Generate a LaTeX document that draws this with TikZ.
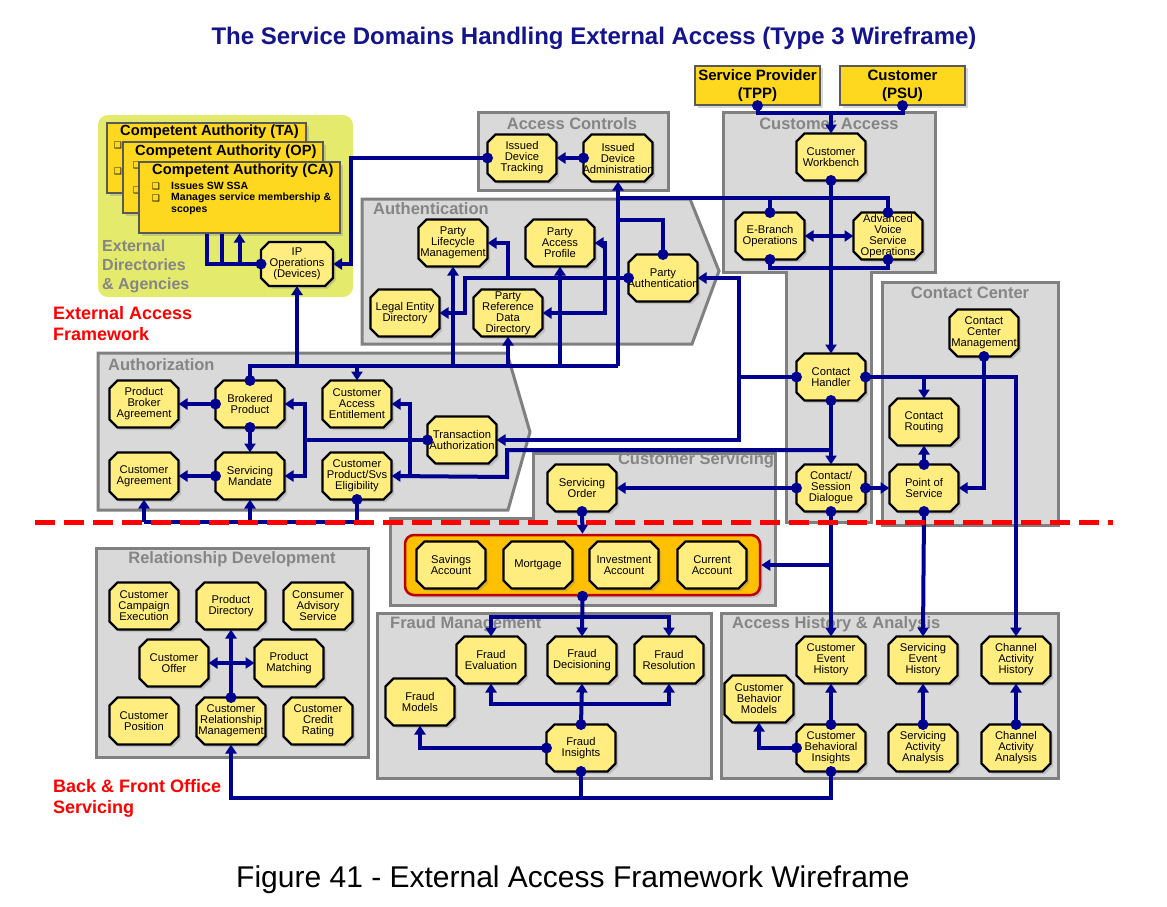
\documentclass[tikz,border=0pt]{standalone}
\usepackage{fontspec}
\setmainfont{Liberation Sans}
\newfontfamily\dvs{DejaVu Sans}
\usetikzlibrary{arrows.meta,shadows}
\definecolor{lnblue}{HTML}{000090}
\definecolor{sdfill}{HTML}{FFED80}
\definecolor{domfill}{HTML}{D9D9D9}
\definecolor{domline}{HTML}{808080}
\definecolor{goldbox}{HTML}{FDD81E}
\definecolor{extfill}{HTML}{E3EA6C}
\definecolor{ttlblue}{HTML}{14148C}
\definecolor{grptxt}{HTML}{858585}
\definecolor{acctfill}{HTML}{FFC000}
\definecolor{acctline}{HTML}{C00000}
\tikzset{
  sdbox/.style={rectangle, draw=none, fill=none, minimum width=69pt, minimum height=47pt, inner sep=0pt, outer sep=0pt},
  sdpath/.style={draw=black, line width=2.4pt, fill=sdfill, line join=miter,
    drop shadow={shadow xshift=2.5pt,shadow yshift=-2.5pt,opacity=.3}},
  sdtext/.style={align=center, inner sep=0pt, font=\fontsize{11.2}{11}\selectfont},
  dom/.style={draw=domline, fill=domfill, line width=3pt},
  domtitle/.style={text=grptxt, font=\bfseries\fontsize{16.5}{18}\selectfont, inner sep=0pt},
  cabox/.style={draw=black!65, fill=goldbox, line width=1.2pt, inner sep=0pt,
    drop shadow={shadow xshift=2.5pt,shadow yshift=-2.5pt,opacity=.3}},
  catitle/.style={anchor=west, inner sep=0pt, font=\bfseries\fontsize{14.7}{16}\selectfont},
  bul/.style={inner sep=0pt, font=\dvs\fontsize{9}{9}\selectfont},
  bultext/.style={anchor=west, inner sep=0pt, font=\bfseries\fontsize{10.5}{12}\selectfont},
  conn/.style={draw=lnblue, line width=4pt},
  arr/.style={conn, -{Triangle[length=9pt,width=11pt]}},
  redlab/.style={anchor=west, text=red, align=left, inner sep=0pt, font=\bfseries\fontsize{18}{21}\selectfont},
}
\newcommand\sdshape[1]{\path[sdpath] ([xshift=8pt]#1.north west) -- ([xshift=-8pt]#1.north east) -- ([yshift=-8pt]#1.north east)
  -- ([yshift=8pt]#1.south east) -- ([xshift=-8pt]#1.south east) -- ([xshift=8pt]#1.south west) -- ([yshift=8pt]#1.south west)
  -- ([yshift=-8pt]#1.north west) -- cycle;}
\newcommand\sdnode[4]{\node[sdbox] (#1) at (#2,#3) {}; \sdshape{#1} \node[sdtext] (#1-t) at (#1.center) {#4};}
\begin{document}
\begin{tikzpicture}[x=1pt,y=-1pt]
\fill[white] (0,0) rectangle (1167,907);
\useasboundingbox (0,0) rectangle (1167,907);

% titles
\node[font=\bfseries\fontsize{24}{28}\selectfont, text=ttlblue, inner sep=0pt] (title) at (594,38) {The Service Domains Handling External Access (Type 3 Wireframe)};
\node[font=\fontsize{30}{33}\selectfont, inner sep=0pt] (caption) at (573,880) {Figure 41 - External Access Framework Wireframe};

% external directories
\fill[extfill, rounded corners=10pt] (98,115) rectangle (353,297);
\node[anchor=west, text=grptxt, align=left, inner sep=0pt, font=\bfseries\fontsize{16}{19}\selectfont] (extdir) at (102,266) {External\\Directories\\\& Agencies};

% competent authority stack
\node[cabox, minimum width=199pt, minimum height=70pt] (ta) at (206.5,158) {};
\node[bul] (tab1) at (118,145) {❑};
\node[bul] (tab2) at (118,171) {❑};
\node[catitle] (tat) at (120,132) {Competent Authority (TA)};
\node[cabox, minimum width=200pt, minimum height=71pt] (op) at (223,177.5) {};
\node[bul] (opb1) at (137,165) {❑};
\node[bul] (opb2) at (137,190) {❑};
\node[catitle] (opt) at (135,152) {Competent Authority (OP)};
\node[cabox, minimum width=201pt, minimum height=71pt] (ca) at (239.5,197.5) {};
\node[catitle] (cat) at (152,171) {Competent Authority (CA)};
\node[bul] (cab1) at (156,186) {❑};
\node[bul] (cab2) at (156,198) {❑};
\node[bultext] (cat1) at (171,186) {Issues SW SSA};
\node[bultext] (cat2) at (171,198) {Manages service membership \&};
\node[bultext] (cat3) at (171,211) {scopes};

% domain boxes
\draw[dom] (478,112) rectangle (668,190);
\node[domtitle] (acct) at (572,124) {Access Controls};
\draw[dom] (362,199) -- (690,199) -- (719,271) -- (692,344) -- (362,344) -- cycle;
\node[domtitle, anchor=west] (autht) at (373,209) {Authentication};
\draw[dom] (98,353) -- (507,353) -- (530,432) -- (508,510) -- (98,510) -- cycle;
\node[domtitle, anchor=west] (authzt) at (108,365) {Authorization};
\draw[dom] (723,112) -- (935,112) -- (935,272) -- (871,272) -- (871,522) -- (786,522) -- (786,272) -- (723,272) -- cycle;
\node[domtitle] (cust) at (829,124) {Customer Access};
\draw[dom] (882,282) rectangle (1058,525);
\node[domtitle] (cct) at (970,293) {Contact Center};
\draw[dom] (533,453) -- (775,453) -- (775,605) -- (390,605) -- (390,518) -- (533,518) -- cycle;
\node[domtitle] (cst) at (696,460) {Customer Servicing};
\draw[dom] (96,548) rectangle (368,757);
\node[domtitle] (rdt) at (232,559) {Relationship Development};
\draw[dom] (377,613) rectangle (711,778);
\node[domtitle, anchor=west] (fmt) at (390,624) {Fraud Management};
\draw[dom] (721,613) rectangle (1058,778);
\node[domtitle, anchor=west] (aht) at (732,624) {Access History \& Analysis};

% accounts group
\node[draw=acctline, fill=acctfill, line width=2.5pt, rounded corners=9pt, minimum width=355pt, minimum height=60pt, inner sep=0pt,
  drop shadow={shadow xshift=2.5pt,shadow yshift=-2.5pt,opacity=.3}] (grp) at (582.5,565) {};

% service domain nodes
\sdnode{idt}{522}{158}{Issued\\Device\\Tracking}
\sdnode{ida}{618}{158}{Issued\\Device\\Administration}
\sdnode{plm}{453}{243}{Party\\Lifecycle\\Management}
\sdnode{pap}{560}{243}{Party\\Access\\Profile}
\sdnode{pau}{663}{278}{Party\\Authentication}
\sdnode{led}{405}{313}{Legal Entity\\Directory}
\sdnode{prdd}{508}{313}{Party\\Reference\\Data\\Directory}
\node[sdbox, minimum width=72pt, minimum height=44pt] (ipo) at (297,264) {};
\sdshape{ipo}
\node[sdtext] (ipo-t) at (ipo.center) {IP\\Operations\\(Devices)};
\sdnode{cwb}{831}{157}{Customer\\Workbench}
\sdnode{ebr}{770}{236}{E-Branch\\Operations}
\sdnode{avso}{888}{236}{Advanced\\Voice\\Service\\Operations}
\sdnode{chd}{831}{377}{Contact\\Handler}
\sdnode{ccm}{984}{333}{Contact\\Center\\Management}
\sdnode{crt}{924}{422}{Contact\\Routing}
\sdnode{pos}{924}{488}{Point of\\Service}
\sdnode{csd}{831}{488}{Contact/\\Session\\Dialogue}
\sdnode{sor}{582}{488}{Servicing\\Order}
\sdnode{pba}{144}{404}{Product\\Broker\\Agreement}
\sdnode{bpr}{250}{404}{Brokered\\Product}
\sdnode{cae}{357}{404}{Customer\\Access\\Entitlement}
\sdnode{tau}{462}{440}{Transaction\\Authorization}
\sdnode{cag}{144}{476}{Customer\\Agreement}
\sdnode{sma}{250}{476}{Servicing\\Mandate}
\sdnode{cps}{357}{476}{Customer\\Product/Svs\\Eligibility}
\sdnode{sav}{451}{565}{Savings\\Account}
\sdnode{mor}{538}{565}{Mortgage}
\sdnode{inv}{624}{565}{Investment\\Account}
\sdnode{cur}{712}{565}{Current\\Account}
\sdnode{fev}{491}{660}{Fraud\\Evaluation}
\sdnode{fde}{582}{660}{Fraud\\Decisioning}
\sdnode{fre}{669}{660}{Fraud\\Resolution}
\sdnode{fmo}{420}{702}{Fraud\\Models}
\sdnode{fin}{581}{748}{Fraud\\Insights}
\sdnode{ceh}{831}{660}{Customer\\Event\\History}
\sdnode{seh}{923}{660}{Servicing\\Event\\History}
\sdnode{cah}{1016}{660}{Channel\\Activity\\History}
\sdnode{cbm}{759}{699}{Customer\\Behavior\\Models}
\sdnode{cbi}{831}{748}{Customer\\Behavioral\\Insights}
\sdnode{saa}{923}{748}{Servicing\\Activity\\Analysis}
\sdnode{caa}{1016}{748}{Channel\\Activity\\Analysis}
\sdnode{cce}{144}{606}{Customer\\Campaign\\Execution}
\sdnode{pdi}{231}{606}{Product\\Directory}
\sdnode{cas}{318}{606}{Consumer\\Advisory\\Service}
\sdnode{cof}{174}{663}{Customer\\Offer}
\sdnode{pma}{289}{663}{Product\\Matching}
\sdnode{cpo}{144}{721}{Customer\\Position}
\sdnode{crm}{231}{721}{Customer\\Relationship\\Management}
\sdnode{ccr}{318}{721}{Customer\\Credit\\Rating}

% TPP / PSU
\node[cabox, minimum width=125pt, minimum height=39pt, align=center, font=\bfseries\fontsize{15}{18}\selectfont] (tpp) at (757.5,85.5) {Service Provider\\(TPP)};
\node[cabox, minimum width=125pt, minimum height=39pt, align=center, font=\bfseries\fontsize{15}{18}\selectfont] (psu) at (902.5,85.5) {Customer\\(PSU)};

% ---------- connectors ----------
\draw[arr] (ida.west) -- (idt.east);
\draw[arr] (idt.west) -| (351,264) -- (ipo.east);
\draw[conn] (ipo.west) -| (ca.south -| 207,0);
\draw[conn] (222,264) -- (ca.south -| 222,0);
\draw[arr] (ipo.west -| ca.south) -- (ca.south);

% bus from brokered product
\draw[conn] (bpr.north) |- (618,366);
\draw[arr] (618,366) -- (ida.south);
\draw[arr] (ipo.south |- 0,366) -- (ipo.south);
\draw[arr] (plm.south |- 0,366) -- (plm.south);
\draw[arr] (prdd.south |- 0,366) -- (prdd.south);
\draw[arr] (pap.south |- 0,366) -- (pap.south);
\draw[arr] (cae.north |- 0,366) -- (cae.north);
\draw[conn] (618,198) -| (avso.north);
\draw[conn] (ebr.north |- 0,198) -- (ebr.north);
\draw[conn] (pau.north) |- (618,220);

% party authentication
\draw[arr] (pau.west) -| (465,313) -- (led.east);
\draw[arr] (508,278) |- (plm.east);
\draw[arr] (605,278) |- (pap.east);
\draw[arr] (605,278) |- (prdd.east);

% contact handler
\draw[arr] (chd.west) -| (739,278) -- (pau.east);
\draw[arr] (739,377) |- (tau.east);
\draw[arr] (chd.south) -- (csd.north);
\draw[arr] (csd.north |- 0,450) -| (507,477) -- (cps.east);
\draw[arr] (chd.east) -| (cah.north);
\draw[arr] (crt.north |- 0,377) -- (crt.north);

% transaction authorization
\draw[conn] (tau.west) -- (305,440);
\draw[arr] (305,476) |- (bpr.east);
\draw[arr] (305,440) |- (sma.east);
\draw[arr] (410,477) |- (cae.east);

% authorization internals
\draw[arr] (bpr.west) -- (pba.east);
\draw[arr] (bpr.south) -- (sma.north);
\draw[arr] (sma.west) -- (cag.east);
\draw[conn] (cps.south) |- (cag.south |- 0,522);
\draw[arr] (cag.south |- 0,522) -- (cag.south);
\draw[arr] (sma.south |- 0,522) -- (sma.south);

% customer access
\draw[conn] (tpp.south) |- (psu.south |- 0,113) -- (psu.south);
\draw[arr] (cwb.north |- 0,113) -- (cwb.north);
\draw[arr] (cwb.south) -- (chd.north);
\draw[arr] (cwb.south |- 0,236) -- (ebr.east);
\draw[arr] (cwb.south |- 0,236) -- (avso.west);
\draw[conn] (ebr.south) |- (avso.south |- 0,268) -- (avso.south);

% contact center
\draw[arr] (ccm.south) |- (pos.east);
\draw[arr] (pos.north) -- (crt.south);
\draw[arr] (csd.east) -- (pos.west);
\draw[arr] (csd.west) -- (sor.east);
\draw[arr] (csd.south) -- (ceh.north);
\draw[arr] (csd.south |- 0,565) -- (grp.east);
\draw[arr] (pos.south) -- (seh.north);
\draw[arr] (sor.south) -- (grp.north);

% fraud
\draw[arr] (grp.south) -- (fde.north);
\draw[arr] (fde.north |- 0,617) -| (fev.north);
\draw[arr] (fde.north |- 0,617) -| (fre.north);
\draw[arr] (fin.north) -- (fde.south);
\draw[arr] (fin.north |- 0,704) -| (fev.south);
\draw[arr] (fin.north |- 0,704) -| (fre.south);
\draw[arr] (fin.west) -| (fmo.south);
\draw[conn] (fin.south) -- (fin.south |- 0,798);

% access history
\draw[arr] (cbi.north) -- (ceh.south);
\draw[arr] (saa.north) -- (seh.south);
\draw[arr] (caa.north) -- (cah.south);
\draw[arr] (cbi.west) -| (cbm.south);
\draw[arr] (cbi.south) |- (crm.south |- 0,798) -- (crm.south);

% relationship development
\draw[arr] (crm.north) -- (pdi.south);
\draw[arr] (crm.north |- 0,663) -- (cof.east);
\draw[arr] (crm.north |- 0,663) -- (pma.west);

% dots
\foreach \p in {ida.west, idt.west, ipo.west, bpr.north, pau.north, pau.west, ebr.north, avso.north,
  chd.west, chd.south, chd.east, tau.west, bpr.west, bpr.south, sma.west, cps.south, tpp.south, psu.south,
  cwb.south, ebr.south, avso.south, ccm.south, pos.north, csd.east, csd.west, csd.south, pos.south,
  sor.south, grp.south, fin.north, fin.west, fin.south, cbi.north, saa.north, caa.north, cbi.west,
  cbi.south, crm.north}
  \fill[lnblue] (\p) circle (5.5pt);

% red dashed divider
\draw[red, line width=5pt, dash pattern=on 20pt off 9pt] (35,522) -- (1113,522);

% red labels
\node[redlab] (eaf) at (53,324) {External Access\\Framework};
\node[redlab] (bfo) at (53,798) {Back \& Front Office\\Servicing};
\end{tikzpicture}
\end{document}
